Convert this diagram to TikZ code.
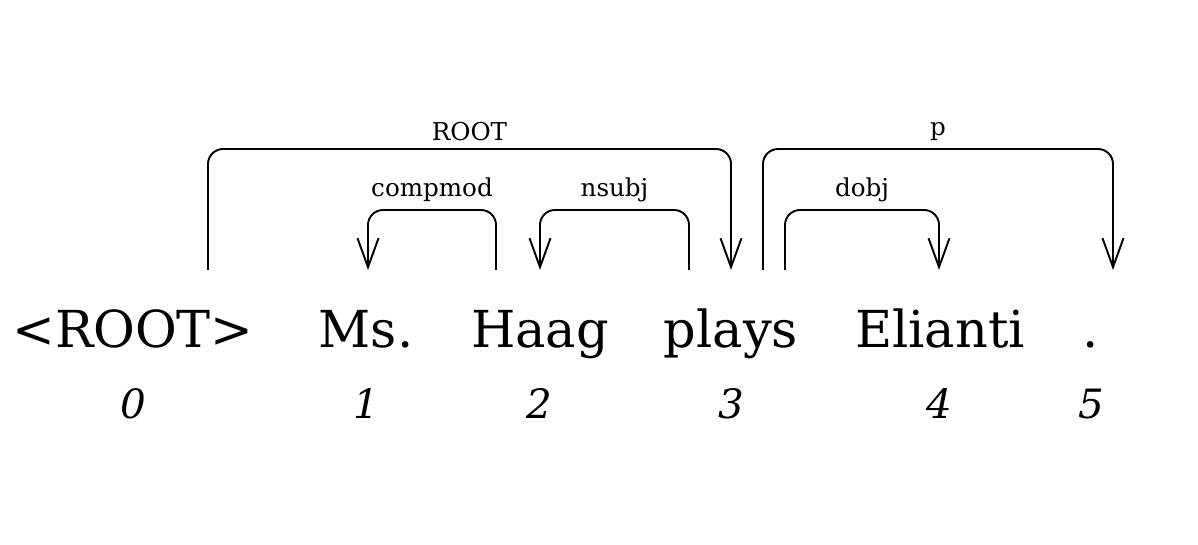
\documentclass[tikz,border=0pt]{standalone}
\usepackage{fontspec}
\setmainfont{DejaVu Serif}
\usetikzlibrary{arrows.meta}
\tikzset{
  deparc/.style={-{Straight Barb[length=5.8mm, width=4.2mm]}, line width=1.1pt, rounded corners=3mm},
  word/.style={anchor=base, inner sep=0pt, font=\fontsize{29}{34}\selectfont},
  idx/.style={anchor=base, inner sep=0pt, font=\fontsize{23}{28}\selectfont\itshape},
  deplabel/.style={above, inner sep=4pt, font=\fontsize{14}{17}\selectfont}
}

\begin{document}
\begin{tikzpicture}
  \useasboundingbox (0,0) rectangle (23.96,10.88);
  % words
  \node[word] (w0) at (2.66,3.92) {<ROOT>};
  \node[word] (w1) at (7.32,3.92) {Ms.};
  \node[word] (w2) at (10.80,3.92) {Haag};
  \node[word] (w3) at (14.62,3.92) {plays};
  \node[word] (w4) at (18.80,3.92) {Elianti};
  \node[word] (w5) at (21.82,3.92) {.};
  % indices
  \node[idx] (n0) at (2.66,2.52) {0};
  \node[idx] (n1) at (7.32,2.52) {1};
  \node[idx] (n2) at (10.78,2.52) {2};
  \node[idx] (n3) at (14.62,2.52) {3};
  \node[idx] (n4) at (18.78,2.52) {4};
  \node[idx] (n5) at (21.82,2.52) {5};
  % arc ends
  \coordinate (r0) at (4.16,5.48);
  \coordinate (r3) at (14.62,5.48);
  \coordinate (c2) at (9.92,5.48);
  \coordinate (c1) at (7.36,5.48);
  \coordinate (s3) at (13.78,5.48);
  \coordinate (s2) at (10.80,5.48);
  \coordinate (p3) at (15.26,5.48);
  \coordinate (p5) at (22.26,5.48);
  \coordinate (o3) at (15.70,5.48);
  \coordinate (o4) at (18.78,5.48);
  % arcs
  \draw[deparc] (r0) -- ++(0,2.42) -| node[deplabel, pos=0.25] {ROOT} (r3);
  \draw[deparc] (c2) -- ++(0,1.20) -| node[deplabel, pos=0.25] {compmod} (c1);
  \draw[deparc] (s3) -- ++(0,1.20) -| node[deplabel, pos=0.25] {nsubj} (s2);
  \draw[deparc] (p3) -- ++(0,2.42) -| node[deplabel, pos=0.25] {p} (p5);
  \draw[deparc] (o3) -- ++(0,1.20) -| node[deplabel, pos=0.25] {dobj} (o4);
\end{tikzpicture}
\end{document}
